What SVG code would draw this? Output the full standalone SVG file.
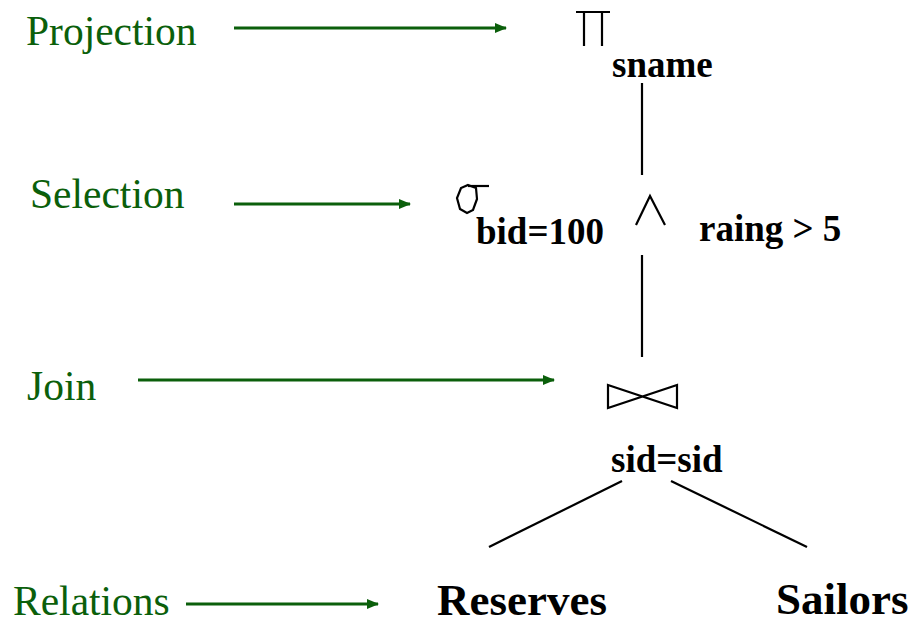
<svg xmlns="http://www.w3.org/2000/svg" width="911" height="625" viewBox="0 0 911 625">
  <style>
    .label { font-family: "Liberation Serif", "Times New Roman", serif; font-size: 41.5px; fill: #0b5f0b; }
    .cond { font-family: "Liberation Serif", "Times New Roman", serif; font-size: 37px; font-weight: bold; fill: #000; }
    .rel { font-family: "Liberation Serif", "Times New Roman", serif; font-size: 45px; font-weight: bold; fill: #000; }
    .edge { stroke: #000; stroke-width: 2.2; fill: none; }
    .sym { stroke: #000; stroke-width: 2.2; fill: none; stroke-linejoin: miter; }
    .pointer { stroke: #0b5f0b; stroke-width: 2.8; fill: none; marker-end: url(#head); }
  </style>
  <defs>
    <marker id="head" markerUnits="userSpaceOnUse" markerWidth="12" markerHeight="10" refX="11" refY="5" orient="auto">
      <path d="M0,0 L12,5 L0,10 Z" fill="#0b5f0b"/>
    </marker>
  </defs>
  <rect width="911" height="625" fill="#fff"/>

  <!-- tree edges -->
  <g id="connectors">
    <line class="edge" x1="642" y1="83" x2="642" y2="175"/>
    <line class="edge" x1="642" y1="255" x2="642" y2="357"/>
    <line class="edge" x1="622" y1="481" x2="489" y2="547"/>
    <line class="edge" x1="671" y1="481" x2="807" y2="547"/>
  </g>

  <!-- projection on sname -->
  <g id="projection">
    <line class="sym" x1="576" y1="12" x2="610" y2="12"/>
    <line class="sym" x1="584" y1="12" x2="584" y2="46"/>
    <line class="sym" x1="602" y1="12" x2="602" y2="46"/>
    <text class="cond" x="612" y="77">sname</text>
  </g>

  <!-- selection -->
  <g id="selection">
    <polygon class="sym" points="468,185 476,188 477,199 473,210 467,213 460,209 457,198 461,188"/>
    <line class="sym" x1="468" y1="186" x2="489" y2="186"/>
    <text class="cond" x="476" y="244">bid=100</text>
  </g>

  <!-- conjunction -->
  <g id="and">
    <polyline class="sym" points="636,225 650,196 665,225"/>
    <text class="cond" x="699" y="241">raing &gt; 5</text>
  </g>

  <!-- join -->
  <g id="join">
    <polygon class="sym" points="608,385 677,408 677,385 608,408"/>
    <text class="cond" x="611" y="472">sid=sid</text>
  </g>

  <!-- base relations -->
  <g id="reserves">
    <text class="rel" x="437" y="615">Reserves</text>
  </g>
  <g id="sailors">
    <text class="rel" x="776" y="614">Sailors</text>
  </g>

  <!-- operator captions with pointers -->
  <g id="caption-projection">
    <text class="label" x="26" y="45">Projection</text>
    <line class="pointer" x1="234" y1="28" x2="506" y2="28"/>
  </g>
  <g id="caption-selection">
    <text class="label" x="30" y="208">Selection</text>
    <line class="pointer" x1="234" y1="204" x2="410" y2="204"/>
  </g>
  <g id="caption-join">
    <text class="label" x="27" y="400">Join</text>
    <line class="pointer" x1="138" y1="380" x2="554" y2="380"/>
  </g>
  <g id="caption-relations">
    <text class="label" x="13" y="615">Relations</text>
    <line class="pointer" x1="186" y1="604" x2="378" y2="604"/>
  </g>
</svg>
